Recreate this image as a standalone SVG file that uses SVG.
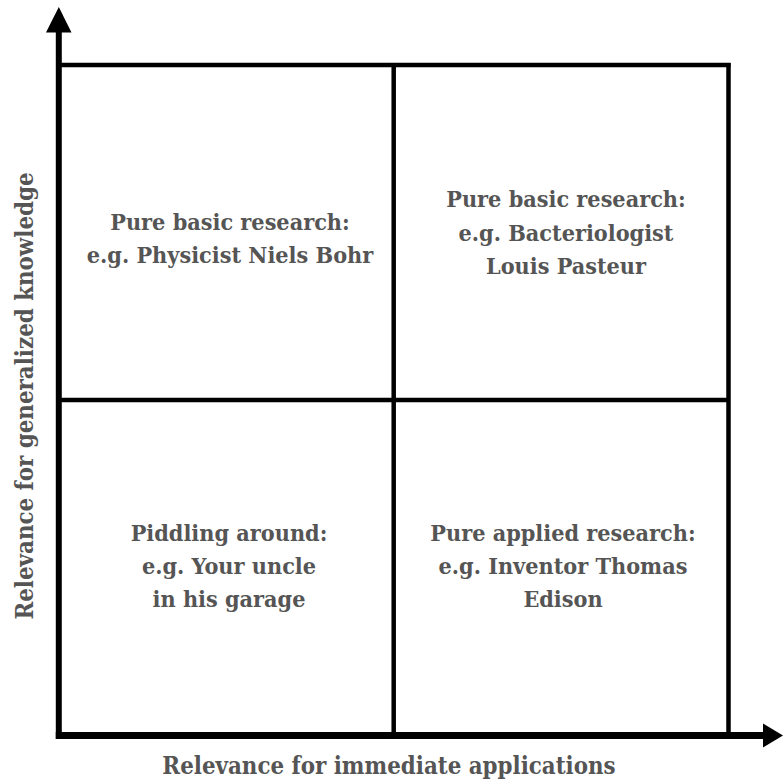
<svg xmlns="http://www.w3.org/2000/svg" width="783" height="782" viewBox="0 0 783 782">
  <style>
    .t { font-family: "DejaVu Serif Condensed", "DejaVu Serif", serif; font-stretch: condensed; font-weight: bold; fill: #555555; text-anchor: middle; }
    .q { font-size: 23.2px; }
    .ax { font-size: 23.8px; }
    .grid { stroke: #000000; stroke-width: 4.5; fill: none; }
    .axis { stroke: #000000; fill: none; }
    .head { fill: #000000; stroke: none; }
  </style>
  <rect width="783" height="782" fill="#ffffff"/>
  <g id="grid">
    <line class="grid" x1="59" y1="65" x2="730.5" y2="65"/>
    <line class="grid" x1="728.5" y1="63" x2="728.5" y2="735"/>
    <line class="grid" x1="393.7" y1="65" x2="393.7" y2="735"/>
    <line class="grid" x1="59" y1="400" x2="728.5" y2="400"/>
  </g>
  <g id="connectors">
    <line class="axis" stroke-width="6" x1="58.8" y1="30" x2="58.8" y2="739"/>
    <line class="axis" stroke-width="7" x1="55.8" y1="735.5" x2="765" y2="735.5"/>
    <polygon class="head" points="58.8,7 46,32.5 71.5,32.5"/>
    <polygon class="head" points="783,735.5 763,723.5 763,747.5"/>
  </g>
  <g id="q-top-left">
    <text class="t q" x="230" y="230">Pure basic research:</text>
    <text class="t q" x="230" y="263">e.g. Physicist Niels Bohr</text>
  </g>
  <g id="q-top-right">
    <text class="t q" x="566" y="207">Pure basic research:</text>
    <text class="t q" x="566" y="241">e.g. Bacteriologist</text>
    <text class="t q" x="566" y="274">Louis Pasteur</text>
  </g>
  <g id="q-bottom-left">
    <text class="t q" x="229" y="541">Piddling around:</text>
    <text class="t q" x="229" y="574">e.g. Your uncle</text>
    <text class="t q" x="229" y="607">in his garage</text>
  </g>
  <g id="q-bottom-right">
    <text class="t q" x="563" y="541">Pure applied research:</text>
    <text class="t q" x="563" y="574">e.g. Inventor Thomas</text>
    <text class="t q" x="563" y="607">Edison</text>
  </g>
  <g id="x-label">
    <text class="t ax" x="389" y="774">Relevance for immediate applications</text>
  </g>
  <g id="y-label">
    <text class="t ax" transform="translate(33,396) rotate(-90)" x="0" y="0">Relevance for generalized knowledge</text>
  </g>
</svg>
